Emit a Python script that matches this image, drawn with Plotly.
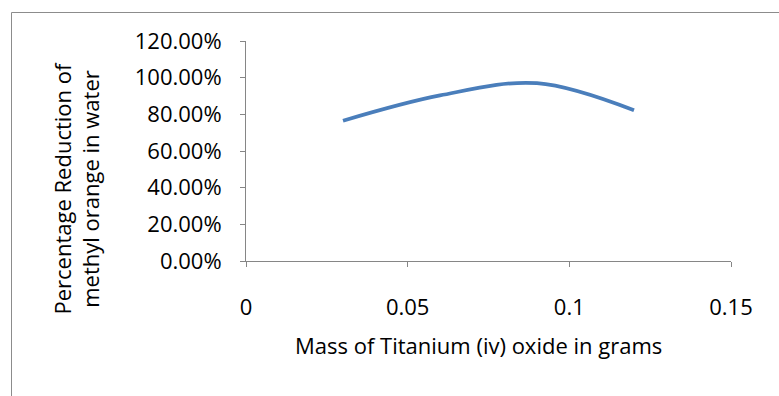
import plotly.graph_objects as go

# Photocatalytic reduction of methyl orange vs. mass of TiO2
mass_g = [0.03, 0.06, 0.09, 0.12]
reduction = [0.765, 0.903, 0.970, 0.822]

x_ticks = [0, 0.05, 0.1, 0.15]
x_tick_text = ["0", "0.05", "0.1", "0.15"]
y_ticks = [0, 0.2, 0.4, 0.6, 0.8, 1.0, 1.2]
y_tick_text = ["0.00%", "20.00%", "40.00%", "60.00%", "80.00%", "100.00%", "120.00%"]

W, H = 779, 396
L, R, T, B = 246, 48, 41, 135
plot_w = W - L - R
plot_h = H - T - B


def px_x(px):
    return (px - L) / plot_w


def px_y(py):
    return (H - B - py) / plot_h


FONT = "Open Sans"
AXIS_GREY = "#868686"

fig = go.Figure()
fig.add_trace(go.Scatter(
    x=mass_g,
    y=reduction,
    mode="lines",
    line=dict(color="#4a7ebb", width=3.8, shape="spline", smoothing=1.0),
    hoverinfo="x+y",
    showlegend=False,
))

axis_common = dict(
    showgrid=False,
    zeroline=False,
    showline=True,
    linecolor=AXIS_GREY,
    linewidth=1,
    ticks="outside",
    ticklen=5,
    tickwidth=1,
    tickcolor=AXIS_GREY,
    tickfont=dict(family=FONT, size=22, color="#000000"),
)

fig.update_xaxes(
    range=[0, 0.15],
    tickmode="array",
    tickvals=x_ticks,
    ticktext=x_tick_text,
    ticklabelstandoff=22,
    **axis_common,
)
fig.update_yaxes(
    range=[0, 1.2],
    tickmode="array",
    tickvals=y_ticks,
    ticktext=y_tick_text,
    ticklabelstandoff=14,
    **axis_common,
)

# chart frame (runs off the right and bottom edges)
fig.add_shape(
    type="rect",
    xref="paper", yref="paper",
    x0=px_x(11.5), y0=px_y(410), x1=px_x(800), y1=px_y(12.5),
    line=dict(color="#8c8c8c", width=1),
    fillcolor="rgba(0,0,0,0)",
    layer="below",
)

fig.add_annotation(
    text="Mass of Titanium (iv) oxide in grams",
    xref="paper", yref="paper",
    x=px_x(478), y=px_y(345),
    xanchor="center", yanchor="middle",
    showarrow=False,
    font=dict(family=FONT, size=22, color="#000000"),
)
fig.add_annotation(
    text="Percentage Reduction of<br>methyl orange in water",
    xref="paper", yref="paper",
    x=px_x(76), y=px_y(188.5),
    xanchor="center", yanchor="middle",
    textangle=-90,
    showarrow=False,
    font=dict(family=FONT, size=22, color="#000000"),
)

fig.update_layout(
    width=W,
    height=H,
    margin=dict(l=L, r=R, t=T, b=B, pad=0),
    paper_bgcolor="#ffffff",
    plot_bgcolor="#ffffff",
)

fig.write_html("out.html")
